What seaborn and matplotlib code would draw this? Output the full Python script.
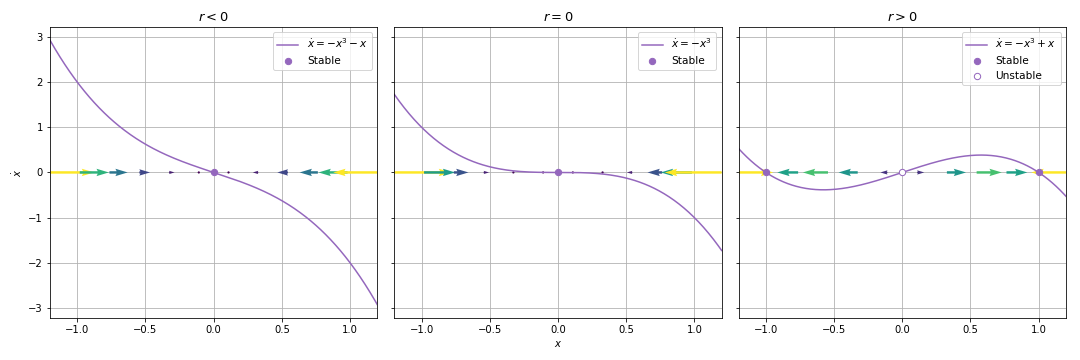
import numpy as np
import pandas as pd
import seaborn as sns
import matplotlib.pyplot as plt

# Parametros de cada painel: xdot = r*x - x^3
titles = ['$r < 0$', '$r = 0$', '$r > 0$']
r_values = [-1.0, 0.0, 1.0]
curve_labels = [r'$\dot{x} = -x^3 - x$', r'$\dot{x} = -x^3$', r'$\dot{x} = -x^3 + x$']
stable_points = [[0.0], [0.0], [-1.0, 1.0]]
unstable_points = [[], [], [0.0]]

# Posicoes das setas do campo de fase sobre o eixo x
arrow_x = [-1.2, -0.982, -0.764, -0.545, -0.327, -0.109,
           0.109, 0.327, 0.545, 0.764, 0.982, 1.2]

x_min, x_max = -1.2, 1.2
roxo = '#9467bd'


def xdot(x, r):
    x = np.asarray(x, dtype=float)
    return r * x - x ** 3


fig, axes = plt.subplots(1, 3, figsize=(15, 5), dpi=72, sharey=True)

for ax, title, r, label, stable, unstable in zip(axes, titles, r_values, curve_labels,
                                                  stable_points, unstable_points):
    # campo de setas colorido pela magnitude
    u = xdot(arrow_x, r)
    zeros = np.zeros(len(arrow_x))
    ax.quiver(arrow_x, zeros, u, zeros, np.abs(u), cmap='viridis', zorder=1.8)

    # curva
    xs = np.linspace(x_min, x_max, 400)
    df = pd.DataFrame({'x': xs, 'xdot': xdot(xs, r)})
    sns.lineplot(data=df, x='x', y='xdot', color=roxo, label=label, ax=ax)

    # pontos fixos
    sns.scatterplot(x=stable, y=[0.0] * len(stable), color=roxo, edgecolor=roxo,
                    linewidth=1, s=40, label='Stable', zorder=3, ax=ax)
    if unstable:
        sns.scatterplot(x=unstable, y=[0.0] * len(unstable), facecolor='white',
                        edgecolor=roxo, linewidth=1, s=40, label='Unstable',
                        zorder=3, ax=ax)

    ax.set_xlim(x_min, x_max)
    ax.set_title(title, fontsize=13)
    ax.set_xlabel('')
    ax.set_ylabel('')
    ax.grid(True)
    ax.legend(loc='upper right', fontsize=10.5)

axes[0].set_ylabel(r'$\dot{x}$')
axes[1].set_xlabel(r'$x$')

plt.subplots_adjust(left=0.0463, right=0.987, top=0.925, bottom=0.117, wspace=0.052)
plt.savefig('out.png', dpi=72)
plt.close()
